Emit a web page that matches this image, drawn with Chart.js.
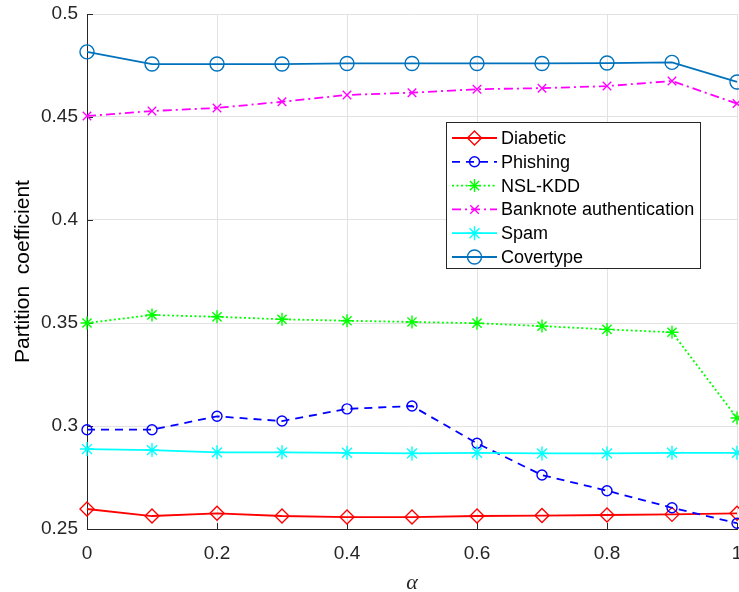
<!DOCTYPE html>
<html>
<head>
<meta charset="utf-8">
<script src="https://cdn.jsdelivr.net/npm/chart.js@4/dist/chart.umd.min.js"></script>
<style>
  html, body { margin: 0; padding: 0; background: #ffffff; overflow: hidden; }
  #wrap { width: 739px; height: 592px; }
</style>
</head>
<body>
<div id="wrap"><canvas id="c" width="739" height="592"></canvas></div>
<script>
// ---- data ----
const alpha = [0, 0.1, 0.2, 0.3, 0.4, 0.5, 0.6, 0.7, 0.8, 0.9, 1.0];
const diabetic = [0.2597, 0.2563, 0.2576, 0.2563, 0.2558, 0.2558, 0.2563, 0.2565, 0.2568, 0.2571, 0.2576];
const phishing = [0.2982, 0.2982, 0.3047, 0.3024, 0.3083, 0.3097, 0.2916, 0.2762, 0.2686, 0.2603, 0.2528];
const nslKdd = [0.3500, 0.3539, 0.3530, 0.3518, 0.3511, 0.3505, 0.3499, 0.3485, 0.3469, 0.3455, 0.3039];
const banknote = [0.4505, 0.4529, 0.4544, 0.4574, 0.4607, 0.4618, 0.4635, 0.4640, 0.4650, 0.4675, 0.4565];
const spam = [0.2888, 0.2883, 0.2872, 0.2872, 0.2870, 0.2867, 0.2870, 0.2867, 0.2867, 0.2870, 0.2870];
const covertype = [0.4816, 0.4757, 0.4757, 0.4757, 0.4760, 0.4760, 0.4760, 0.4760, 0.4762, 0.4765, 0.4670];
const seriesNames = ['Diabetic', 'Phishing', 'NSL-KDD', 'Banknote authentication', 'Spam', 'Covertype'];
const xTickValues = [0, 0.2, 0.4, 0.6, 0.8, 1];
const xTickLabels = ['0', '0.2', '0.4', '0.6', '0.8', '1'];
const yTickValues = [0.25, 0.3, 0.35, 0.4, 0.45, 0.5];
const yTickLabels = ['0.25', '0.3', '0.35', '0.4', '0.45', '0.5'];
const xTitle = 'α';
const yTitle = 'Partition  coefficient';

// ---- styles ----
const styles = [
  { color: '#FF0000', dash: [], marker: 'rectRot', r: 7 },
  { color: '#0000FF', dash: [8, 6], marker: 'circle', r: 5 },
  { color: '#00FF00', dash: [2, 2.5], marker: 'star', r: 6.5 },
  { color: '#FF00FF', dash: [9, 4, 2, 4], marker: 'crossRot', r: 6 },
  { color: '#00FFFF', dash: [], marker: 'star', r: 7 },
  { color: '#0072BD', dash: [], marker: 'circle', r: 7 }
];
const seriesValues = [diabetic, phishing, nslKdd, banknote, spam, covertype];

const datasets = seriesValues.map((vals, i) => ({
  label: seriesNames[i],
  data: vals.map((v, k) => ({ x: alpha[k], y: v })),
  borderColor: styles[i].color,
  borderWidth: 1.8,
  borderDash: styles[i].dash,
  pointStyle: styles[i].marker,
  pointRadius: styles[i].r,
  pointBorderColor: styles[i].color,
  pointBackgroundColor: 'rgba(0,0,0,0)',
  pointBorderWidth: 1.4,
  fill: false,
  tension: 0,
  clip: false,
  order: seriesValues.length - i
}));

const AXIS = '#262626';
const GRID = '#e2e2e2';

function drawMarker(ctx, style, x, y, r) {
  ctx.beginPath();
  if (style === 'circle') {
    ctx.arc(x, y, r, 0, Math.PI * 2);
  } else if (style === 'rectRot') {
    ctx.moveTo(x, y - r); ctx.lineTo(x + r, y); ctx.lineTo(x, y + r); ctx.lineTo(x - r, y); ctx.closePath();
  } else if (style === 'crossRot') {
    const d = r * 0.7071;
    ctx.moveTo(x - d, y - d); ctx.lineTo(x + d, y + d);
    ctx.moveTo(x - d, y + d); ctx.lineTo(x + d, y - d);
  } else if (style === 'star') {
    const d = r * 0.7071;
    ctx.moveTo(x - r, y); ctx.lineTo(x + r, y);
    ctx.moveTo(x, y - r); ctx.lineTo(x, y + r);
    ctx.moveTo(x - d, y - d); ctx.lineTo(x + d, y + d);
    ctx.moveTo(x - d, y + d); ctx.lineTo(x + d, y - d);
  }
  ctx.stroke();
}

const inwardTicks = {
  id: 'inwardTicks',
  beforeDatasetsDraw(chart) {
    const ctx = chart.ctx, a = chart.chartArea;
    const xs = chart.scales.x, ys = chart.scales.y;
    ctx.save();
    ctx.strokeStyle = AXIS; ctx.lineWidth = 1; ctx.setLineDash([]);
    xTickValues.forEach(v => {
      const px = Math.round(xs.getPixelForValue(v)) + 0.5;
      ctx.beginPath(); ctx.moveTo(px, a.bottom); ctx.lineTo(px, a.bottom - 6); ctx.stroke();
    });
    yTickValues.forEach(v => {
      const py = Math.round(ys.getPixelForValue(v)) + 0.5;
      ctx.beginPath(); ctx.moveTo(a.left, py); ctx.lineTo(a.left + 6, py); ctx.stroke();
    });
    ctx.restore();
  }
};

const boxLegend = {
  id: 'boxLegend',
  afterDraw(chart) {
    const ctx = chart.ctx;
    const left = 446, top = 122, w = 254, h = 146;
    ctx.save();
    ctx.fillStyle = '#ffffff';
    ctx.fillRect(left, top, w, h);
    ctx.strokeStyle = AXIS; ctx.lineWidth = 1; ctx.setLineDash([]);
    ctx.strokeRect(left + 0.5, top + 0.5, w, h);
    ctx.font = '18px "Liberation Sans", Arial, sans-serif';
    ctx.textBaseline = 'middle';
    ctx.fillStyle = '#000000';
    chart.data.datasets.forEach((ds, i) => {
      const y = 138 + i * 23.8;
      ctx.strokeStyle = ds.borderColor;
      ctx.lineWidth = 1.8;
      ctx.setLineDash(ds.borderDash || []);
      ctx.beginPath(); ctx.moveTo(452, y); ctx.lineTo(497, y); ctx.stroke();
      ctx.setLineDash([]);
      ctx.lineWidth = 1.4;
      drawMarker(ctx, ds.pointStyle, 474.5, y, ds.pointRadius);
      ctx.fillStyle = '#000000';
      ctx.fillText(ds.label, 501, y + 1);
    });
    ctx.restore();
  }
};

new Chart(document.getElementById('c'), {
  type: 'line',
  data: { datasets },
  plugins: [inwardTicks, boxLegend],
  options: {
    responsive: false,
    animation: false,
    devicePixelRatio: 1,
    layout: { autoPadding: false, padding: { left: 0, right: 2, top: 14, bottom: 0 } },
    plugins: { legend: { display: false }, tooltip: { enabled: false } },
    scales: {
      x: {
        type: 'linear', min: 0, max: 1,
        afterBuildTicks: s => { s.ticks = xTickValues.map(v => ({ value: v })); },
        afterFit: s => { s.height = 63; s.paddingLeft = 0; s.paddingRight = 0; },
        ticks: {
          autoSkip: false, maxRotation: 0, padding: 13, color: AXIS,
          font: { family: '"Liberation Sans", Arial, sans-serif', size: 19 },
          callback: (v, idx) => xTickLabels[idx]
        },
        grid: { color: GRID, drawTicks: false, lineWidth: 1 },
        border: { color: AXIS, width: 1 },
        title: {
          display: true, text: xTitle, color: AXIS,
          font: { family: '"Liberation Serif", "Times New Roman", serif', size: 22, style: 'italic' },
          padding: { top: 0, bottom: -4 }
        }
      },
      y: {
        type: 'linear', min: 0.25, max: 0.5,
        afterBuildTicks: s => { s.ticks = yTickValues.map(v => ({ value: v })); },
        afterFit: s => { s.width = 87; s.paddingTop = 0; s.paddingBottom = 0; },
        ticks: {
          autoSkip: false, padding: 9, color: AXIS,
          font: { family: '"Liberation Sans", Arial, sans-serif', size: 19 },
          callback: (v, idx) => yTickLabels[idx]
        },
        grid: { color: GRID, drawTicks: false, lineWidth: 1 },
        border: { color: AXIS, width: 1 },
        title: {
          display: true, text: yTitle, color: '#000000',
          font: { family: '"Liberation Sans", Arial, sans-serif', size: 21 },
          padding: { top: 11, bottom: 0 }
        }
      }
    }
  }
});
</script>
</body>
</html>
